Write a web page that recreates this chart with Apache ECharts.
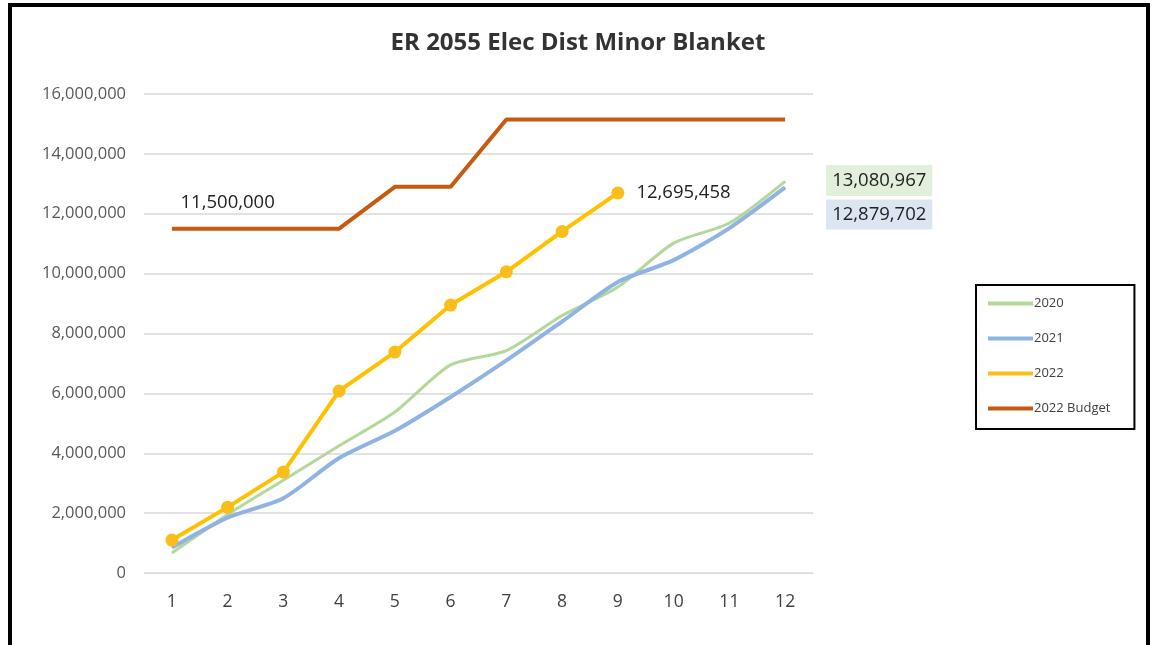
<!DOCTYPE html>
<html>
<head>
<meta charset="utf-8">
<script src="https://cdn.jsdelivr.net/npm/echarts@6/dist/echarts.min.js"></script>
<style>
html,body{margin:0;padding:0;background:#fff;}
#chart{width:1156px;height:645px;}
</style>
</head>
<body>
<div id="chart"></div>
<script>
const categories = ['1','2','3','4','5','6','7','8','9','10','11','12'];
const s2020 = [670000, 1950000, 3100000, 4250000, 5380000, 6950000, 7430000, 8600000, 9550000, 11020000, 11690000, 13080967];
const s2021 = [850000, 1850000, 2500000, 3840000, 4750000, 5880000, 7100000, 8400000, 9720000, 10450000, 11520000, 12879702];
const s2022 = [1100000, 2200000, 3370000, 6080000, 7380000, 8950000, 10060000, 11410000, 12695458];
const sBudget = [11500000, 11500000, 11500000, 11500000, 12900000, 12900000, 15150000, 15150000, 15150000, 15150000, 15150000, 15150000];
const yTicks = [0, 2000000, 4000000, 6000000, 8000000, 10000000, 12000000, 14000000, 16000000];
const seriesNames = ['2020', '2021', '2022', '2022 Budget'];

const fmt = v => Math.round(v).toLocaleString('en-US');
const chart = echarts.init(document.getElementById('chart'));
const labelFont = { fontFamily: 'Open Sans', fontSize: 18.5, color: '#222' };

chart.setOption({
  animation: false,
  backgroundColor: '#fff',
  title: {
    text: 'ER 2055 Elec Dist Minor Blanket',
    left: 'center', top: 26,
    textStyle: { fontFamily: 'Open Sans', fontWeight: 'bold', fontSize: 24, color: '#333' }
  },
  grid: { left: 144, right: 343, top: 94, bottom: 72, containLabel: false },
  legend: {
    data: seriesNames,
    orient: 'vertical',
    left: 976, top: 285,
    padding: [12, 24, 14, 12],
    itemGap: 22,
    itemWidth: 45, itemHeight: 4,
    borderColor: '#000', borderWidth: 2,
    textStyle: { fontFamily: 'Open Sans', fontSize: 13, color: '#404040', padding: [0, 0, 0, -4] },
    icon: 'rect'
  },
  xAxis: {
    type: 'category',
    data: categories,
    boundaryGap: true,
    axisLine: { show: true, lineStyle: { color: '#d9d9d9' } },
    axisTick: { show: false },
    axisLabel: { fontFamily: 'Open Sans', fontSize: 17.5, color: '#404040', margin: 20 }
  },
  yAxis: {
    type: 'value',
    min: yTicks[0], max: yTicks[yTicks.length - 1], interval: 2000000,
    axisLine: { show: false },
    axisTick: { show: false },
    splitLine: { lineStyle: { color: '#d9d9d9', width: 1.5 } },
    axisLabel: { fontFamily: 'Open Sans', fontSize: 16.5, color: '#595959', margin: 18, formatter: v => fmt(v) }
  },
  series: [
    {
      name: seriesNames[0], type: 'line', data: s2020, smooth: 0.25,
      showSymbol: false, symbol: 'none',
      lineStyle: { color: '#b4d79a', width: 3 }, itemStyle: { color: '#b4d79a' },
      label: { show: false },
      markPoint: {
        symbol: 'rect', symbolSize: 0,
        data: [{ coord: [11, s2020[11]], value: s2020[11] }],
        label: {
          show: true, position: 'right', distance: 0, offset: [41, -1],
          formatter: p => fmt(p.value),
          backgroundColor: '#e2efda', padding: [7, 6, 5, 6], ...labelFont
        }
      }
    },
    {
      name: seriesNames[1], type: 'line', data: s2021, smooth: 0.25,
      showSymbol: false, symbol: 'none',
      lineStyle: { color: '#8fb4e3', width: 4 }, itemStyle: { color: '#8fb4e3' },
      markPoint: {
        symbol: 'rect', symbolSize: 0,
        data: [{ coord: [11, s2021[11]], value: s2021[11] }],
        label: {
          show: true, position: 'right', distance: 0, offset: [41, 27],
          formatter: p => fmt(p.value),
          backgroundColor: '#dce6f2', padding: [6, 6, 5, 6], ...labelFont
        }
      }
    },
    {
      name: seriesNames[2], type: 'line', data: s2022,
      symbol: 'circle', symbolSize: 13, showSymbol: true,
      lineStyle: { color: '#ffc000', width: 4 }, itemStyle: { color: '#fbbd1a' },
      label: {
        show: true, position: 'right', distance: 12,
        formatter: p => p.dataIndex === s2022.length - 1 ? fmt(p.value) : '',
        ...labelFont
      }
    },
    {
      name: seriesNames[3], type: 'line', data: sBudget,
      symbol: 'none', showSymbol: false,
      lineStyle: { color: '#c55a11', width: 4 }, itemStyle: { color: '#c55a11' },
      markPoint: {
        symbol: 'rect', symbolSize: 0,
        data: [{ coord: [1, sBudget[1]], value: sBudget[1] }],
        label: {
          show: true, position: 'top', distance: 16,
          formatter: p => fmt(p.value), ...labelFont
        }
      }
    }
  ],
  graphic: [
    {
      type: 'rect', silent: true, z: 100,
      shape: { x: 10, y: 5, width: 1138, height: 700 },
      style: { fill: 'none', stroke: '#000', lineWidth: 4 }
    }
  ]
});
</script>
</body>
</html>
